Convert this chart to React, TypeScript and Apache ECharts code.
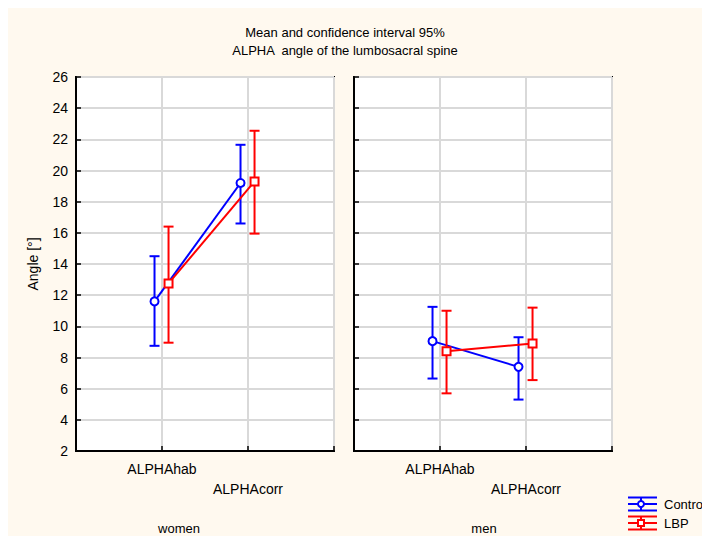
import React, { useEffect, useRef } from "react";
import * as echarts from "echarts";

const titleLines = ["Mean and confidence interval 95%", "ALPHA  angle of the lumbosacral spine"];
const panels = ["women", "men"];
const categories = ["ALPHAhab", "ALPHAcorr"];
const seriesNames = ["Contro", "LBP"];
const seriesColors = ["#0000FF", "#FF0000"];
const seriesSymbols = ["emptyCircle", "emptyRect"];
const seriesOffsets = [-0.087, 0.076];
const yTicks = { min: 2, max: 26, interval: 2 };
const yAxisName = "Angle [°]";

// [panel][category]
const controMean = [[11.6, 19.2], [9.05, 7.4]];
const controLow = [[8.75, 16.6], [6.65, 5.3]];
const controHigh = [[14.5, 21.65], [11.25, 9.3]];
const lbpMean = [[12.75, 19.3], [8.4, 8.9]];
const lbpLow = [[8.95, 15.95], [5.7, 6.55]];
const lbpHigh = [[16.4, 22.55], [11.0, 11.2]];

const means = [controMean, lbpMean];
const lows = [controLow, lbpLow];
const highs = [controHigh, lbpHigh];

const FONT = "'Liberation Sans', Arial, sans-serif";

export default function App() {
  const ref = useRef<HTMLDivElement>(null);
  useEffect(() => {
    if (!ref.current) return;
    const chart = echarts.init(ref.current, null, { renderer: "svg" });

    const gridLefts = [68, 346];
    const grids = panels.map((_, p) => ({
      left: gridLefts[p],
      top: 69,
      width: 258,
      height: 374,
      show: true,
      backgroundColor: "#FFFFFF",
      borderColor: "#000000",
      borderWidth: 2,
      containLabel: false,
    }));

    const xAxes = panels.map((_, p) => ({
      type: "value",
      gridIndex: p,
      min: 0,
      max: categories.length + 1,
      interval: 1,
      axisLine: { show: true, lineStyle: { color: "#000", width: 2 } },
      axisTick: { show: true, inside: true, length: 5, lineStyle: { color: "#000", width: 1.5 } },
      splitLine: { show: true, lineStyle: { color: "#D9D9D9", width: 2 } },
      axisLabel: {
        show: true,
        margin: 8,
        fontSize: 14,
        lineHeight: 20,
        color: "#000",
        fontFamily: FONT,
        verticalAlign: "top",
        formatter: (v: number) => {
          const i = Math.round(v) - 1;
          if (i < 0 || i >= categories.length) return "";
          return "\n".repeat(i) + categories[i];
        },
      },
    }));

    const yAxes = panels.map((_, p) => ({
      type: "value",
      gridIndex: p,
      min: yTicks.min,
      max: yTicks.max,
      interval: yTicks.interval,
      name: p === 0 ? yAxisName : "",
      nameLocation: "middle",
      nameGap: 36,
      nameTextStyle: { fontSize: 14, color: "#000", fontFamily: FONT },
      axisLine: { show: true, lineStyle: { color: "#000", width: 2 } },
      axisTick: { show: true, inside: true, length: 5, lineStyle: { color: "#000", width: 1.5 } },
      splitLine: { show: true, lineStyle: { color: "#D9D9D9", width: 2 } },
      axisLabel: {
        show: p === 0,
        margin: 8,
        fontSize: 14,
        color: "#000",
        fontFamily: FONT,
      },
    }));

    const series: any[] = [];
    panels.forEach((_, p) => {
      seriesNames.forEach((name, s) => {
        const color = seriesColors[s];
        const errData = categories.map((_, c) => [c + 1 + seriesOffsets[s], lows[s][p][c], highs[s][p][c]]);
        series.push({
          type: "custom",
          name,
          xAxisIndex: p,
          yAxisIndex: p,
          z: 3 + s * 2,
          encode: { x: 0, y: [1, 2] },
          data: errData,
          renderItem: (params: any, api: any) => {
            const x = api.value(0);
            const lo = api.coord([x, api.value(1)]);
            const hi = api.coord([x, api.value(2)]);
            const cap = 5;
            const style = { stroke: color, lineWidth: 2 };
            return {
              type: "group",
              children: [
                { type: "line", shape: { x1: lo[0], y1: lo[1], x2: hi[0], y2: hi[1] }, style },
                { type: "line", shape: { x1: lo[0] - cap, y1: lo[1], x2: lo[0] + cap, y2: lo[1] }, style },
                { type: "line", shape: { x1: hi[0] - cap, y1: hi[1], x2: hi[0] + cap, y2: hi[1] }, style },
              ],
            };
          },
        });
        series.push({
          type: "line",
          name,
          xAxisIndex: p,
          yAxisIndex: p,
          z: 4 + s * 2,
          data: categories.map((_, c) => [c + 1 + seriesOffsets[s], means[s][p][c]]),
          symbol: seriesSymbols[s],
          symbolSize: 8,
          showSymbol: true,
          lineStyle: { color, width: 2 },
          itemStyle: { color, borderWidth: 2 },
        });
      });
    });

    const legendGraphics: any[] = [];
    const legendYs = [496, 515];
    seriesNames.forEach((name, s) => {
      const y = legendYs[s];
      const color = seriesColors[s];
      const st = { stroke: color, lineWidth: 2 };
      const x1 = 620, x2 = 649, cx = 633;
      legendGraphics.push(
        { type: "line", shape: { x1, y1: y - 6.5, x2, y2: y - 6.5 }, style: st },
        { type: "line", shape: { x1, y1: y, x2, y2: y }, style: st },
        { type: "line", shape: { x1, y1: y + 6.5, x2, y2: y + 6.5 }, style: st },
        { type: "line", shape: { x1: cx, y1: y - 6.5, x2: cx, y2: y + 6.5 }, style: st },
        s === 0
          ? { type: "circle", shape: { cx, cy: y, r: 3 }, style: { fill: "#fff", stroke: color, lineWidth: 2 } }
          : { type: "rect", shape: { x: cx - 3, y: y - 3, width: 6, height: 6 }, style: { fill: "#fff", stroke: color, lineWidth: 2 } },
        {
          type: "text",
          x: 656,
          y,
          style: { text: name, fill: "#000", fontSize: 13, fontFamily: FONT, verticalAlign: "middle" },
        }
      );
    });

    const panelLabelX = [171, 476];
    const graphic: any[] = [
      ...titleLines.map((t, i) => ({
        type: "text",
        x: 337,
        y: 24 + i * 18,
        style: { text: t, fill: "#000", fontSize: 13, fontFamily: FONT, align: "center", verticalAlign: "middle" },
      })),
      ...panels.map((t, p) => ({
        type: "text",
        x: panelLabelX[p],
        y: 520,
        style: { text: t, fill: "#000", fontSize: 13, fontFamily: FONT, align: "center", verticalAlign: "middle" },
      })),
      ...legendGraphics,
    ];

    chart.setOption({
      animation: false,
      backgroundColor: "#FFF9EF",
      textStyle: { fontFamily: FONT },
      grid: grids,
      xAxis: xAxes,
      yAxis: yAxes,
      series,
      graphic,
    });
    return () => chart.dispose();
  }, []);
  return <div ref={ref} style={{ width: 702, height: 528 }} />;
}
